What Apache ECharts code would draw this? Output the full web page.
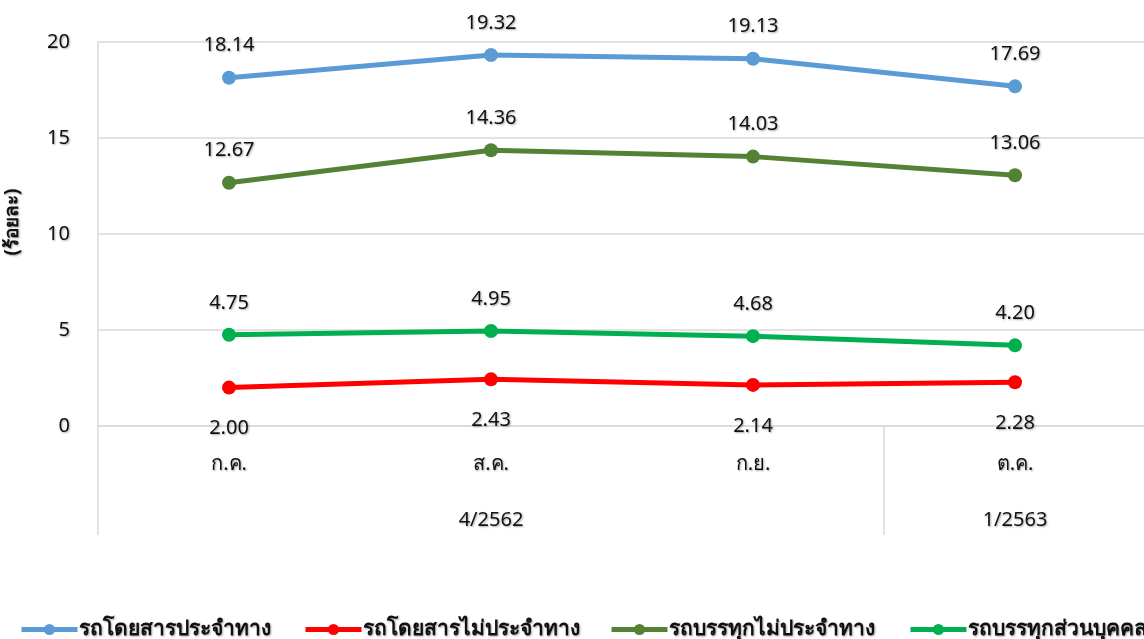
<!DOCTYPE html>
<html><head><meta charset="utf-8">
<script src="https://cdn.jsdelivr.net/npm/echarts@6/dist/echarts.min.js"></script>
<style>html,body{margin:0;padding:0;background:#fff}#c{width:1144px;height:639px}</style>
</head><body><div id="c"></div>
<script>
const categories = ['ก.ค.', 'ส.ค.', 'ก.ย.', 'ต.ค.'];
const groupLabels = ['', '4/2562', '', '1/2563'];
const seriesNames = ['รถโดยสารประจำทาง', 'รถโดยสารไม่ประจำทาง', 'รถบรรทุกไม่ประจำทาง', 'รถบรรทุกส่วนบุคคล'];
const busRegular = [18.14, 19.32, 19.13, 17.69];
const busNonRegular = [2.00, 2.43, 2.14, 2.28];
const truckNonRegular = [12.67, 14.36, 14.03, 13.06];
const truckPrivate = [4.75, 4.95, 4.68, 4.20];
const yTicks = [0, 5, 10, 15, 20];

const FONT = 'Tahoma, "Noto Sans", "DejaVu Sans", sans-serif';
const colors = ['#5B9BD5', '#FF0000', '#548235', '#00B050'];
const legendLefts = [14, 298, 604, 903];
const shadow = {textShadowColor: 'rgba(0,0,0,0.35)', textShadowBlur: 2, textShadowOffsetX: 1, textShadowOffsetY: 1};

function mk(name, data, color, pos) {
  return {
    name, type: 'line', data, color,
    symbol: 'circle', symbolSize: 14,
    lineStyle: {width: 5, color},
    itemStyle: {color},
    label: Object.assign({
      show: true, position: pos, distance: pos === 'top' ? 15 : 24,
      formatter: p => p.value.toFixed(2),
      fontSize: 20, color: '#111', fontFamily: FONT
    }, shadow)
  };
}

const chart = echarts.init(document.getElementById('c'));
chart.setOption({
  animation: false,
  grid: {left: 98, top: 42, width: 1048, bottom: 213, containLabel: false, outerBoundsMode: 'none'},
  legend: seriesNames.map((n, i) => ({
    data: [n], top: 614, left: legendLefts[i], itemWidth: 56, itemHeight: 14, itemGap: 0,
    lineStyle: {width: 5},
    textStyle: Object.assign({fontSize: 21, color: '#111', fontFamily: FONT, fontWeight: 'bold', padding: [0, 0, 0, -4]}, shadow)
  })),
  xAxis: [{
    type: 'category', data: categories, position: 'bottom',
    axisLine: {lineStyle: {color: '#d9d9d9', width: 1.5}},
    axisTick: {show: false},
    axisLabel: Object.assign({fontSize: 20, color: '#111', margin: 28, fontFamily: FONT}, shadow)
  }, {
    type: 'category', data: groupLabels, position: 'bottom', offset: 0,
    axisLine: {show: false},
    axisTick: {show: true, length: 109, interval: (i) => i === 0 || i === 3, lineStyle: {color: '#d9d9d9', width: 1.5}},
    axisLabel: Object.assign({fontSize: 20, color: '#111', margin: 84, interval: 0, fontFamily: FONT}, shadow)
  }],
  yAxis: {
    type: 'value', min: yTicks[0], max: yTicks[yTicks.length - 1], interval: 5,
    name: '(ร้อยละ)', nameLocation: 'middle', nameGap: 76, nameRotate: 90,
    nameTextStyle: Object.assign({fontSize: 19, fontWeight: 'bold', color: '#111', fontFamily: FONT, padding: [0, 0, 0, 24]}, shadow),
    axisLine: {show: true, lineStyle: {color: '#d9d9d9', width: 1.5}},
    axisTick: {show: false},
    splitLine: {lineStyle: {color: '#d9d9d9', width: 1.5}},
    axisLabel: Object.assign({fontSize: 20, color: '#111', margin: 28, fontFamily: FONT}, shadow)
  },
  series: [
    mk(seriesNames[0], busRegular, colors[0], 'top'),
    mk(seriesNames[1], busNonRegular, colors[1], 'bottom'),
    mk(seriesNames[2], truckNonRegular, colors[2], 'top'),
    mk(seriesNames[3], truckPrivate, colors[3], 'top')
  ]
});
</script></body></html>
